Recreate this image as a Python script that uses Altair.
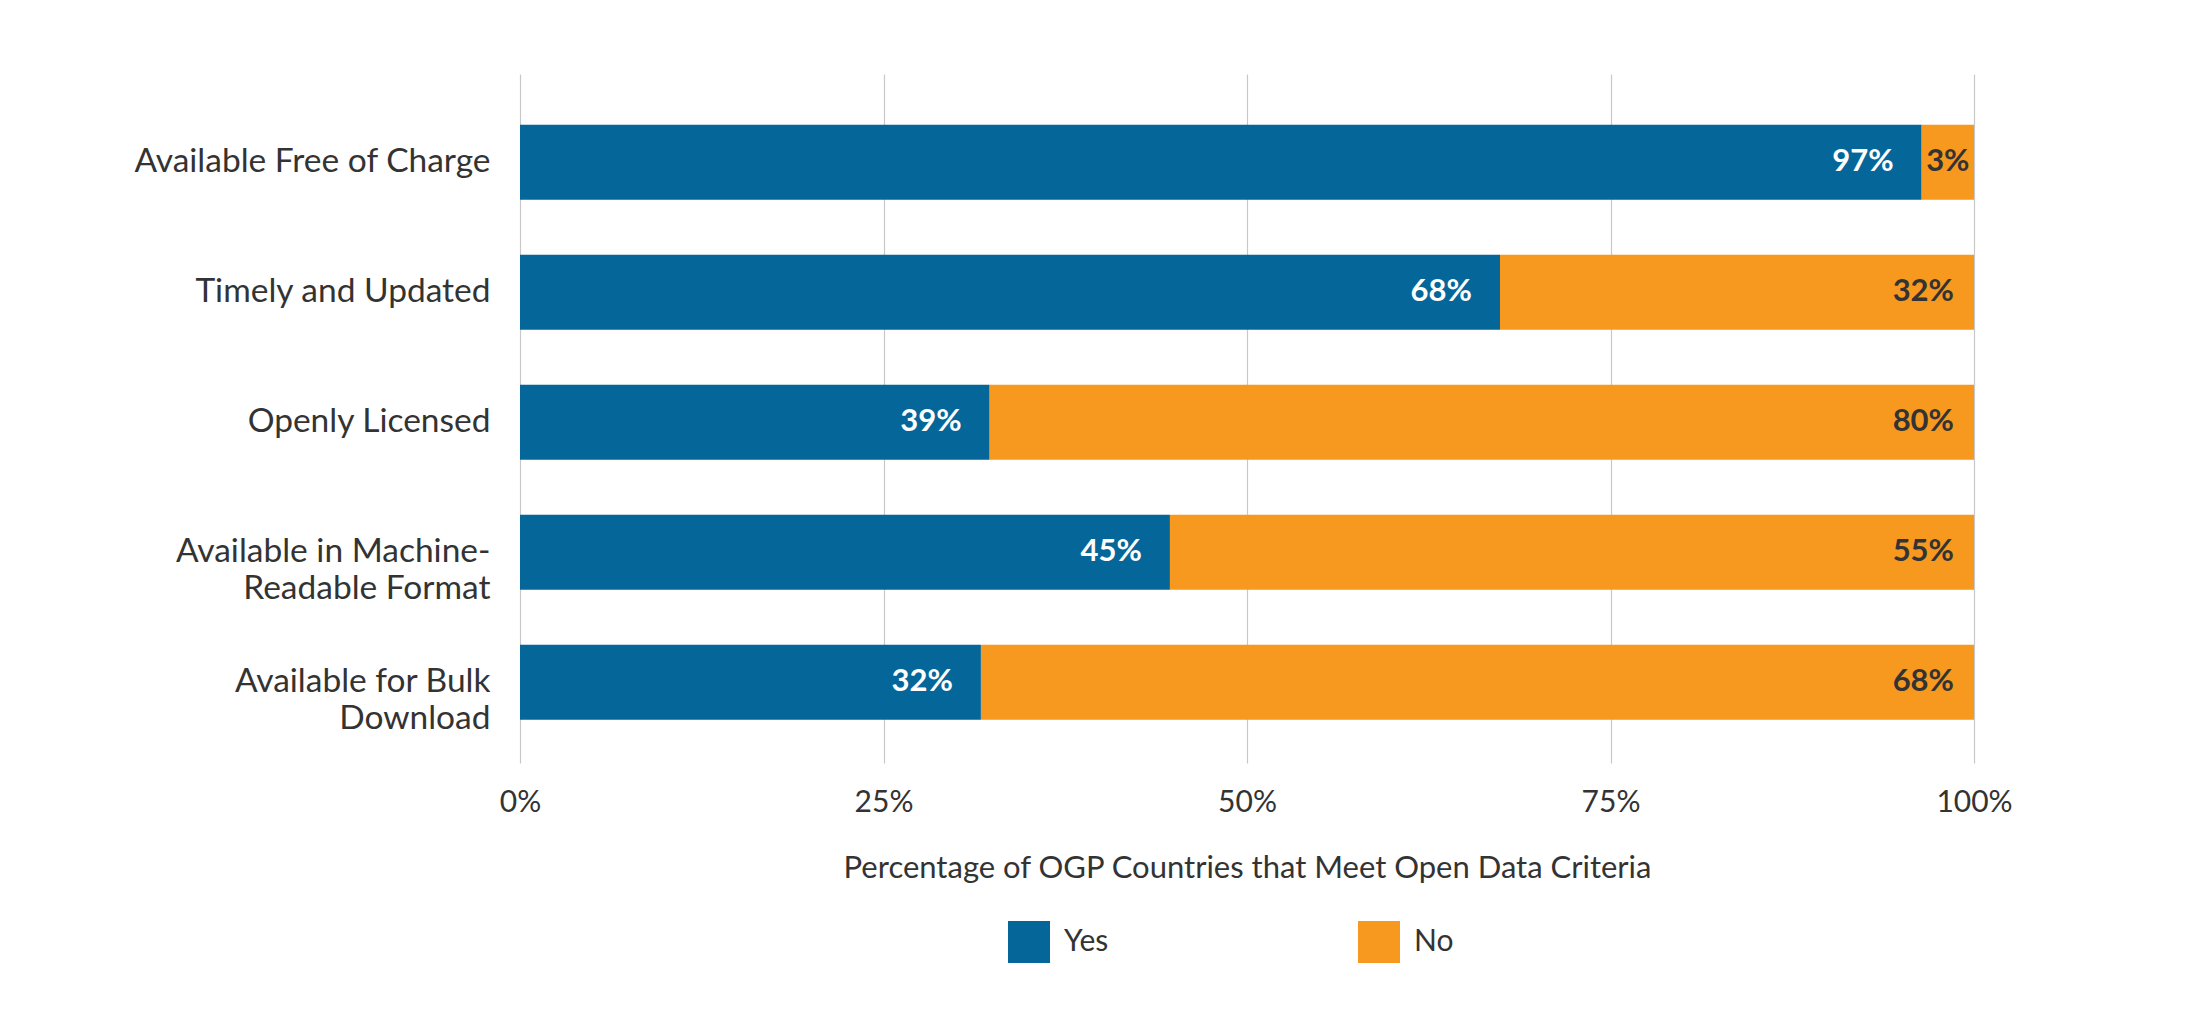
import altair as alt
import pandas as pd

categories = [
    "Available Free of Charge",
    "Timely and Updated",
    "Openly Licensed",
    "Available in Machine-Readable Format",
    "Available for Bulk Download",
]
# printed labels (percent)
yes_labels = [97, 68, 39, 45, 32]
no_labels = [3, 32, 80, 55, 68]
# bar lengths as drawn (share of the full bar, percent)
yes_bar = [96.4, 67.4, 32.3, 44.7, 31.7]
no_bar = [3.6, 32.6, 67.7, 55.3, 68.3]
answers = ["Yes", "No"]
colors = ["#05669A", "#F7991F"]
x_ticks = [0, 0.25, 0.5, 0.75, 1]

rows = []
for c, yl, nl, yb, nb in zip(categories, yes_labels, no_labels, yes_bar, no_bar):
    rows.append({"category": c, "answer": "Yes", "order": 0, "value": yb, "label": f"{yl}%"})
    rows.append({"category": c, "answer": "No", "order": 1, "value": nb, "label": f"{nl}%"})
df = pd.DataFrame(rows)

FONT = "Lato"
TXT = "#333333"

label_expr = (
    "datum.value == 'Available in Machine-Readable Format' ? ['Available in Machine-', 'Readable Format'] : "
    "datum.value == 'Available for Bulk Download' ? ['Available for Bulk', 'Download'] : datum.value"
)

base = (
    alt.Chart(df)
    .transform_joinaggregate(total="sum(value)", groupby=["category"])
    .transform_calculate(share="datum.value / datum.total")
    .transform_stack(
        stack="share",
        groupby=["category"],
        as_=["x0", "x1"],
        sort=[alt.SortField("order", order="ascending")],
    )
    .transform_calculate(mid="(datum.x0 + datum.x1) / 2")
)

y_enc = alt.Y(
    "category:N",
    sort=categories,
    title=None,
    scale=alt.Scale(paddingInner=0.423, paddingOuter=0.3615, align=0.54),
    axis=alt.Axis(
        labelExpr=label_expr,
        labelFont=FONT,
        labelFontSize=33.5,
        labelColor=TXT,
        labelPadding=30,
        labelLineHeight=37,
        ticks=False,
        domain=False,
        grid=False,
        labelLimit=500,
    ),
)

bars = base.mark_bar().encode(
    y=y_enc,
    x=alt.X(
        "x0:Q",
        scale=alt.Scale(domain=[0, 1], nice=False),
        title="Percentage of OGP Countries that Meet Open Data Criteria",
        axis=alt.Axis(
            values=x_ticks,
            format=".0%",
            labelFont=FONT,
            labelFontSize=30,
            labelColor=TXT,
            labelPadding=24,
            labelFlush=False,
            ticks=False,
            domain=False,
            grid=True,
            gridColor="#c8c8c8",
            gridWidth=1.2,
            titleFont=FONT,
            titleFontSize=31,
            titleFontWeight="normal",
            titleColor=TXT,
            titlePadding=36,
        ),
    ),
    x2="x1:Q",
    color=alt.Color(
        "answer:N",
        scale=alt.Scale(domain=answers, range=colors),
        sort=answers,
        legend=alt.Legend(
            title=None,
            orient="none",
            legendX=488,
            legendY=847,
            direction="horizontal",
            symbolType="square",
            symbolSize=1764,
            symbolStrokeWidth=0,
            symbolOpacity=1,
            labelFont=FONT,
            labelFontSize=30,
            labelColor=TXT,
            labelOffset=14,
            columnPadding=249,
            padding=0,
        ),
    ),
)

y_plain = alt.Y("category:N", sort=categories)

labels_yes = (
    base.transform_filter("datum.share >= 0.1 && datum.answer == 'Yes'")
    .mark_text(align="right", baseline="middle", dx=-28, font=FONT, fontSize=31,
               fontWeight="bold", color="white")
    .encode(y=y_plain, x="x1:Q", text="label:N")
)

labels_no = (
    base.transform_filter("datum.share >= 0.1 && datum.answer == 'No'")
    .mark_text(align="right", baseline="middle", dx=-20, font=FONT, fontSize=31,
               fontWeight="bold", color=TXT)
    .encode(y=y_plain, x="x1:Q", text="label:N")
)

labels_small = (
    base.transform_filter("datum.share < 0.1")
    .mark_text(align="center", baseline="middle", font=FONT, fontSize=31, fontWeight="bold")
    .encode(
        y=y_plain,
        x="mid:Q",
        text="label:N",
        color=alt.condition(alt.datum.answer == "Yes", alt.value("white"), alt.value(TXT)),
    )
)

chart = (
    alt.layer(bars, labels_yes, labels_no, labels_small)
    .properties(
        width=1454,
        height=689,
        autosize=alt.AutoSizeParams(type="none"),
        padding={"left": 520, "top": 74, "right": 226, "bottom": 272},
        background="white",
    )
    .configure_view(stroke=None)
)

chart.save("out.html", embed_options={"renderer": "svg", "actions": False})
